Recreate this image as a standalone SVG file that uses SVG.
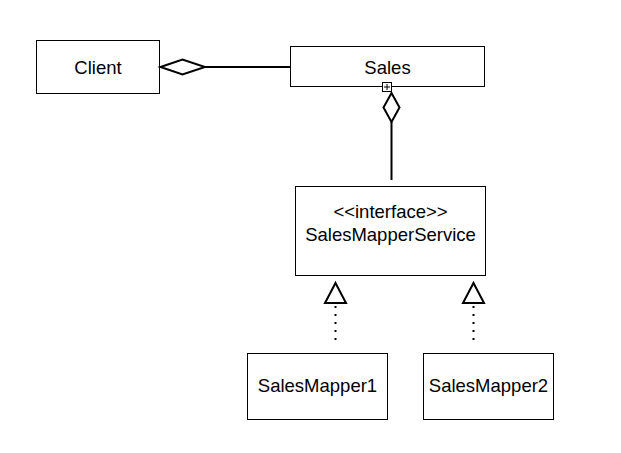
<svg xmlns="http://www.w3.org/2000/svg" width="621" height="453" viewBox="0 0 621 453">
<style>
.box{fill:#fff;stroke:#000;stroke-width:1}
.t{font-family:"Liberation Sans",Arial,sans-serif;font-size:18.5px;fill:#000;text-anchor:middle}
.edge{fill:none;stroke:#000;stroke-width:2}
.dot{fill:none;stroke:#000;stroke-width:2;stroke-dasharray:2 6}
.head{fill:#fff;stroke:#000;stroke-width:2}
</style>
<rect width="621" height="453" fill="#fff"/>
<g id="client">
<rect class="box" x="36.5" y="40.5" width="123" height="53"/>
<text class="t" x="98" y="74">Client</text>
</g>
<g id="sales">
<rect class="box" x="290.5" y="46.5" width="194" height="40"/>
<text class="t" x="387.5" y="73.5">Sales</text>
</g>
<g id="salesMapperService">
<rect class="box" x="295.5" y="186.5" width="190" height="89"/>
<text class="t" x="390.5" y="218">&lt;&lt;interface&gt;&gt;</text>
<text class="t" x="390.5" y="241">SalesMapperService</text>
</g>
<g id="salesMapper1">
<rect class="box" x="247.5" y="353.5" width="140" height="66"/>
<text class="t" x="317.5" y="392">SalesMapper1</text>
</g>
<g id="salesMapper2">
<rect class="box" x="423.5" y="353.5" width="130" height="66"/>
<text class="t" x="488.5" y="392">SalesMapper2</text>
</g>
<g id="connectors">
<line class="edge" x1="205" y1="67" x2="290" y2="67"/>
<polygon class="head" points="160.5,67 182.5,59.5 205,67 182.5,74.5"/>
<line class="edge" x1="391.5" y1="122" x2="391.5" y2="180"/>
<polygon class="head" points="391.5,93 399.5,107.5 391.5,122 383.5,107.5"/>
<rect x="382.5" y="82.5" width="9" height="9" fill="#fff" stroke="#000" stroke-width="1"/>
<path d="M387 84v6M384 87h6" stroke="#000" stroke-width="1"/>
<line class="dot" x1="335.5" y1="306" x2="335.5" y2="342"/>
<polygon class="head" points="335.5,283 346,303 325,303"/>
<line class="dot" x1="473.5" y1="306" x2="473.5" y2="342"/>
<polygon class="head" points="473.5,283 484,303 463,303"/>
</g>
</svg>
